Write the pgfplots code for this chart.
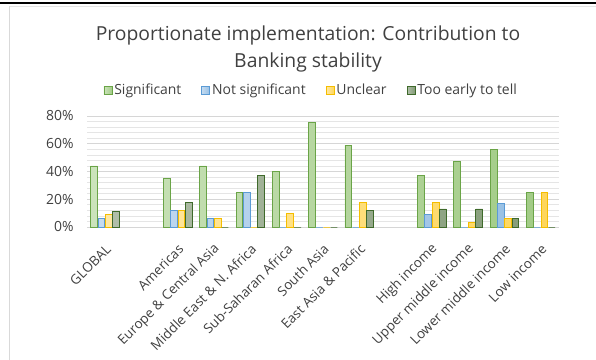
\documentclass[border=0pt]{standalone}
\usepackage{pgfplots}
\usepackage{pgfplotstable}
\pgfplotsset{compat=1.18}
\usepackage{fontspec}
\setmainfont{Open Sans}

\definecolor{sigF}{HTML}{A9D08E}
\definecolor{sigD}{HTML}{6AA447}
\definecolor{nsF}{HTML}{9DC3E6}
\definecolor{nsD}{HTML}{5B9BD5}
\definecolor{unF}{HTML}{FFD966}
\definecolor{unD}{HTML}{F5BD00}
\definecolor{teF}{HTML}{8FA384}
\definecolor{teD}{HTML}{3F6A2B}
\definecolor{txt}{HTML}{404040}

% x = slot of the category (1 and 8 are empty spacer slots)
\pgfplotstableread{
x sig ns un te
0  44  6  9 11
2  35 12 12 18
3  44  6  6  0
4  25 25  0 37
5  40  0 10  0
6  75  0  0  0
7  59  0 18 12
9  37  9 18 13
10 47  0  3 13
11 56 17  6  6
12 25  0 25  0
}\datatable

\begin{document}
\begin{tikzpicture}
\path[use as bounding box] (0bp,0bp) rectangle (596bp,360bp);
% chart frame
\draw[black, line width=2bp] (0bp,357bp) -- (596bp,357bp);
\draw[gray!30, line width=1.2bp] (9.5bp,0bp) -- (9.5bp,354bp);
\draw[gray!20, line width=0.8bp] (9.5bp,354bp) -- (596bp,354bp);

\node[txt, font=\fontsize{19.4}{21}\selectfont, align=center] at (308bp,311bp)
  {Proportionate implementation: Contribution to\\[6bp]Banking stability};

\begin{axis}[
  at={(87bp,133bp)}, anchor=south west,
  scale only axis, width=472bp, height=111bp,
  xmin=-0.5, xmax=12.5, ymin=0, ymax=80,
  axis line style={draw=none},
  clip=false,
  ybar=0.5bp, bar width=6.8bp,
  xtick={0,2,3,4,5,6,7,9,10,11,12},
  xticklabels={GLOBAL, Americas, Europe \& Central Asia, Middle East \& N. Africa,
    Sub-Saharan Africa, South Asia, East Asia \& Pacific, High income,
    Upper middle income, Lower middle income, Low income},
  xticklabel style={xshift=4bp, yshift=-19bp, rotate=45, anchor=east, inner sep=1bp,
    font=\fontsize{13.5}{15}\selectfont, text=txt},
  ytick={0,20,40,60,80},
  yticklabel={\pgfmathprintnumber{\tick}\%},
  yticklabel style={font=\fontsize{14}{16}\selectfont, text=txt, xshift=-10bp},
  /pgf/number format/assume math mode=true,
  minor ytick={4,8,12,16,24,28,32,36,44,48,52,56,64,68,72,76},
  ymajorgrids, yminorgrids,
  major grid style={draw=gray!32, line width=0.9bp},
  minor grid style={draw=gray!20, line width=0.7bp},
  major tick length=0pt, minor tick length=0pt,
  legend columns=4,
  legend style={at={(0.475,1)}, anchor=center, yshift=26bp, draw=none,
    fill=none, font=\fontsize{14}{16}\selectfont, text=txt,
    /tikz/every even column/.append style={column sep=18bp}},
  legend image code/.code={\draw[#1, line width=0.8bp] (0bp,-4bp) rectangle (8bp,4bp);},
]
\addplot[draw=sigD, line width=0.9bp, left color=sigF!60!white, right color=sigF!90!sigD] table[x=x, y=sig] {\datatable};
\addplot[draw=nsD, line width=0.9bp, left color=nsF!60!white, right color=nsF!90!nsD] table[x=x, y=ns] {\datatable};
\addplot[draw=unD, line width=0.9bp, left color=unF!60!white, right color=unF!90!unD] table[x=x, y=un] {\datatable};
\addplot[draw=teD, line width=0.9bp, left color=teF!70!white, right color=teF!85!teD] table[x=x, y=te] {\datatable};
\legend{Significant, Not significant, Unclear, Too early to tell}
\end{axis}
\end{tikzpicture}
\end{document}
